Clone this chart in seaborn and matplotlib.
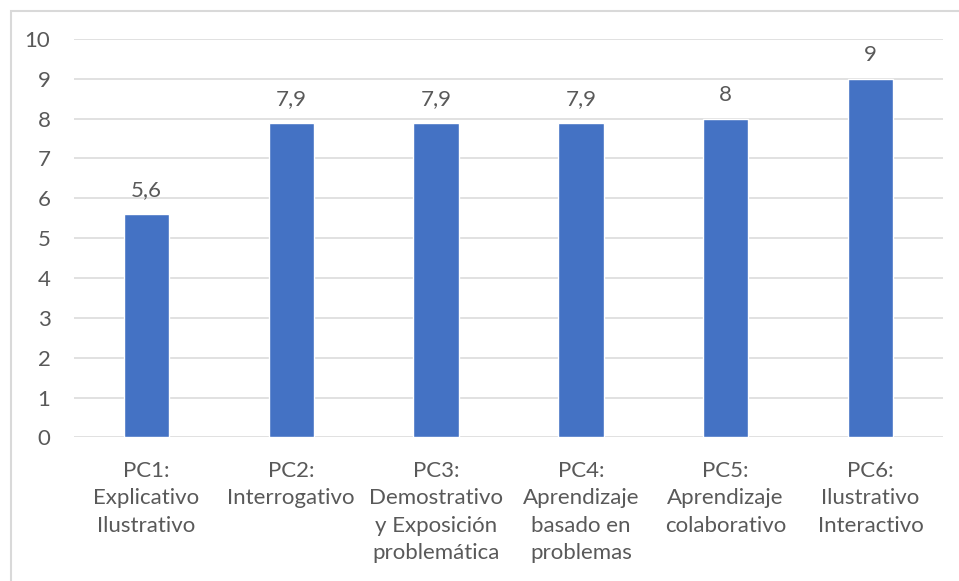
import matplotlib
matplotlib.use("Agg")
import matplotlib.pyplot as plt
import seaborn as sns
import pandas as pd
from matplotlib.patches import Rectangle

categories = [
    "PC1:\nExplicativo\nIlustrativo",
    "PC2:\nInterrogativo",
    "PC3:\nDemostrativo\ny Exposición\nproblemática",
    "PC4:\nAprendizaje\nbasado en\nproblemas",
    "PC5:\nAprendizaje\ncolaborativo",
    "PC6:\nIlustrativo\nInteractivo",
]
values = [5.6, 7.9, 7.9, 7.9, 8, 9]
y_ticks = list(range(0, 11))

sns.set_theme(style="white")
plt.rcParams["font.family"] = ["Lato", "DejaVu Sans"]

text_color = "#595959"
grid_color = "#D9D9D9"
bar_color = "#4472C4"
fs = 16

df = pd.DataFrame({"categoria": categories, "valor": values})

fig = plt.figure(figsize=(9.59, 5.81), dpi=100)
ax = fig.add_axes([0.0772, 0.247, 0.906, 0.686])

sns.barplot(data=df, x="categoria", y="valor", color=bar_color,
            width=0.313, saturation=1, ax=ax, zorder=3)

ax.set_ylim(0, 10)
ax.set_yticks(y_ticks)
ax.yaxis.grid(True, color=grid_color, linewidth=1.1, zorder=0)
ax.set_axisbelow(True)
for s in ax.spines.values():
    s.set_visible(False)
ax.set_xlabel("")
ax.set_ylabel("")
ax.tick_params(axis="y", length=0, pad=17, labelsize=fs, labelcolor=text_color)
ax.tick_params(axis="x", length=0, pad=17, labelsize=fs, labelcolor=text_color)
for lbl in ax.get_xticklabels():
    lbl.set_linespacing(1.45)

for i, v in enumerate(values):
    txt = f"{v:g}".replace(".", ",")
    ax.annotate(txt, (i, v), xytext=(0, 10), textcoords="offset points",
                ha="center", va="bottom", fontsize=fs, color=text_color)

# light chart-area frame along the top and left edges
fig.patches.append(Rectangle((10.5 / 959, -0.1), 1.2, 1.1 - 10.5 / 581,
                             transform=fig.transFigure, fill=False,
                             edgecolor=grid_color, linewidth=1.5))

fig.savefig("out.png", dpi=100)
